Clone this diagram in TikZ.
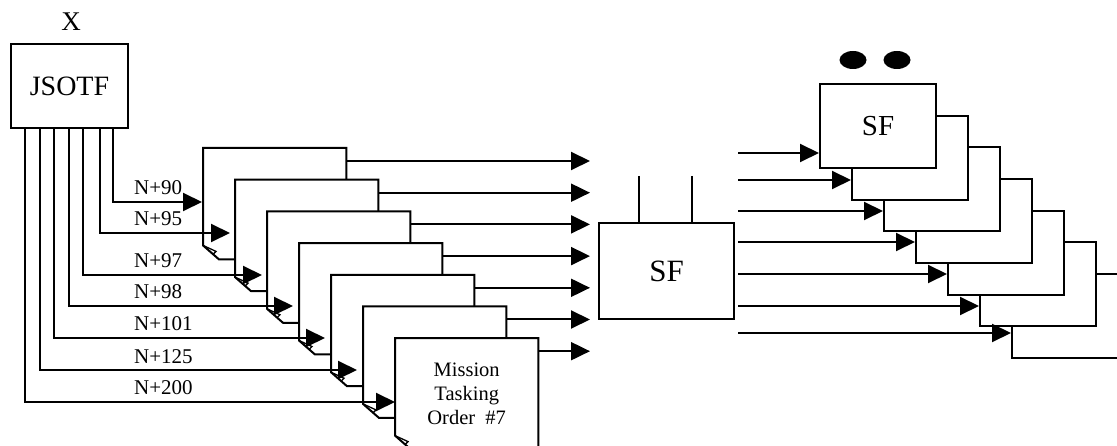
\documentclass[tikz,border=0pt]{standalone}
\usepackage{fontspec}
\setmainfont{Liberation Serif}
\usetikzlibrary{arrows.meta,calc,shapes.geometric}
\begin{document}
\begin{tikzpicture}[x=1pt,y=-1pt,
  line/.style={line width=2pt},
  arr/.style={line, -{Triangle[length=19pt,width=18pt]}},
  pagenode/.style={minimum width=143pt,minimum height=111pt,inner sep=0pt,anchor=north west},
  box/.style={line, draw, fill=white, inner sep=0pt, anchor=north west},
  lab/.style={font=\fontsize{21}{25}\selectfont, inner sep=0pt, anchor=base west},
  dot/.style={ellipse, fill=black, minimum width=27pt, minimum height=18pt, inner sep=0pt}]
\useasboundingbox (0,0) rectangle (1117,446);
\clip (0,0) rectangle (1117,446);

% task force headquarters
\node[font=\fontsize{27}{32}\selectfont] (x) at (71,22) {X};
\node[box, minimum width=117pt, minimum height=84pt, font=\fontsize{28}{33}\selectfont] (jsotf) at (10,43) {JSOTF};

% stack of tasking orders with folded corners
\foreach \i in {0,...,6} {
  \node[pagenode] (p\i) at (203+32*\i, 148+31.7*\i) {};
  \filldraw[line, fill=white] (p\i.north west) -- (p\i.north east) -- (p\i.south east)
     -- ([xshift=16pt]p\i.south west) -- ([yshift=14pt]p\i.south west) -- cycle;
  \draw[line width=1.3pt] ([yshift=14pt]p\i.south west) -- ++(13pt,-6pt) -- ++(-3pt,-3pt);
}
\node[align=center, font=\fontsize{20.5}{24}\selectfont] (mto) at (p6.center) {Mission\\Tasking\\Order~ \#7};

% timed feeds from JSOTF into the orders
\foreach \i/\dx/\yy/\g/\lbl in {0/103/202/1/N+90, 1/90/233/5/N+95, 2/73/275/5/N+97,
    3/59/306/6/N+98, 4/44/338/6/N+101, 5/30/370/6/N+125, 6/15/402/0/N+200} {
  \coordinate (ty\i) at (0,\yy);
  \coordinate (t\i) at ($(p\i.north west |- ty\i) + (-\g pt,0)$);
  \coordinate (l\i) at ($(jsotf.south west) + (\dx pt,0)$);
  \draw[arr] (l\i) |- (t\i);
  \node[lab] (n\i) at (134,\yy-7) {\lbl};
}

% orders out to the SF
\coordinate (outx) at (590,0);
\foreach \i in {0,...,6} {
  \coordinate (a\i) at ([yshift=-13pt]p\i.north east);
  \draw[arr] (a\i) -- (a\i -| outx);
}

% central SF
\node[box, minimum width=135pt, minimum height=96pt, font=\fontsize{31}{36}\selectfont] (sfm) at (598,222) {SF};
\coordinate (c1) at (639,176);
\coordinate (c2) at (692,176);
\draw[line] (c1) -- (c1 |- sfm.north);
\draw[line] (c2) -- (c2 |- sfm.north);

% cascade of SF elements
\foreach \i in {6,5,...,1} {
  \node[box, minimum width=116pt, minimum height=84pt] (sf\i) at (819+32*\i, 83+31.7*\i) {};
}
\node[box, minimum width=116pt, minimum height=84pt, font=\fontsize{29}{34}\selectfont] (sf0) at (819,83) {SF};
\node[dot] (d1) at (853,60) {};
\node[dot] (d2) at (897,60) {};

\foreach \i/\yy in {0/153, 1/180, 2/211, 3/242, 4/274, 5/306, 6/333} {
  \coordinate (s\i) at (738,\yy);
  \draw[arr] (s\i) -- (s\i -| sf\i.west);
}
\end{tikzpicture}
\end{document}
